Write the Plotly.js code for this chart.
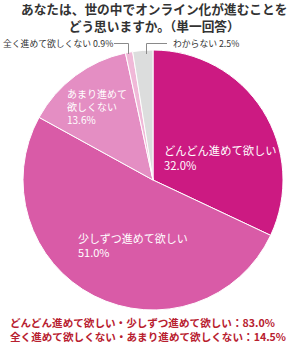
<!DOCTYPE html>
<html><head><meta charset="utf-8">
<script src="https://cdn.plot.ly/plotly-3.0.1.min.js"></script>
<style>html,body{margin:0;padding:0;background:#fff;}#chart{width:294px;height:344px;}</style>
</head><body><div id="chart"></div>
<script>
const titleLines = ["あなたは、世の中でオンライン化が進むことを", "どう思いますか。（単一回答）"];
const labels = ["どんどん進めて欲しい", "少しずつ進めて欲しい", "あまり進めて欲しくない", "全く進めて欲しくない", "わからない"];
const values = [32.0, 51.0, 13.6, 0.9, 2.5];
const colors = ["#cc1a82", "#d95ba7", "#e48ec3", "#f0b9d8", "#dcdddd"];

const W = 294, H = 344;
const px = x => x / W, py = y => 1 - y / H;
const F = '"Noto Sans CJK JP", "Noto Sans", sans-serif';
const pct = v => v.toFixed(1) + "%";

const favour = values[0] + values[1];
const against = values[3] + values[2];

const ann = [];
ann.push({text: "<b>" + titleLines[0] + "<br>" + titleLines[1] + "</b>", x: px(154), y: py(17), font: {size: 12.7, color: "#333333", family: F}});
// inside labels
ann.push({text: labels[0] + "<br>" + pct(values[0]), x: px(162), y: py(158), xanchor: "left", align: "left", font: {size: 11.3, color: "#fff", family: F}});
ann.push({text: labels[1] + "<br>" + pct(values[1]), x: px(76), y: py(245), xanchor: "left", align: "left", font: {size: 11, color: "#fff", family: F}});
ann.push({text: "あまり進めて<br>欲しくない<br>" + pct(values[2]), x: px(65), y: py(106), xanchor: "left", align: "left", font: {size: 10, color: "#fff", family: F}});
// outside labels
ann.push({text: labels[3] + " " + pct(values[3]), x: px(1), y: py(43), xanchor: "left", font: {size: 8.8, color: "#333", family: F}});
ann.push({text: labels[4] + " " + pct(values[4]), x: px(171), y: py(43), xanchor: "left", font: {size: 8.8, color: "#333", family: F}});
// bottom summary
ann.push({text: "<b>" + labels[0] + "・" + labels[1] + "：" + pct(favour) + "<br>" + labels[3] + "・" + "あまり進めて欲しくない" + "：" + pct(against) + "</b>",
  x: px(8), y: py(329), xanchor: "left", align: "left", font: {size: 10.6, color: "#b8202f", family: F}});
ann.forEach(a => { a.xref = "paper"; a.yref = "paper"; a.showarrow = false; if (!a.yanchor) a.yanchor = "middle"; });

const lineStyle = {color: "#8a8a8a", width: 1};
const shapes = [
  {type: "path", path: `M ${114} ${43.5} L ${128.5} ${43.5} L ${128.5} ${54}`, xref: "paper", yref: "paper", line: lineStyle},
  {type: "path", path: `M ${146.5} ${54} L ${146.5} ${43.5} L ${167} ${43.5}`, xref: "paper", yref: "paper", line: lineStyle}
];
shapes.forEach(s => {
  s.path = s.path.replace(/([\d.]+) ([\d.]+)/g, (m, a, b) => px(+a) + " " + py(+b));
});

const data = [{
  type: "pie",
  labels: labels,
  values: values,
  sort: false,
  direction: "clockwise",
  rotation: 0,
  textinfo: "none",
  hoverinfo: "label+percent",
  marker: {colors: colors, line: {color: "#ffffff", width: 1}},
  domain: {x: [px(23), px(283)], y: [py(310), py(50)]},
  showlegend: false
}];

const layout = {
  width: W, height: H,
  margin: {l: 0, r: 0, t: 0, b: 0},
  paper_bgcolor: "#fff",
  showlegend: false,
  annotations: ann,
  shapes: shapes
};
Plotly.newPlot("chart", data, layout, {displayModeBar: false, staticPlot: true});
</script></body></html>
